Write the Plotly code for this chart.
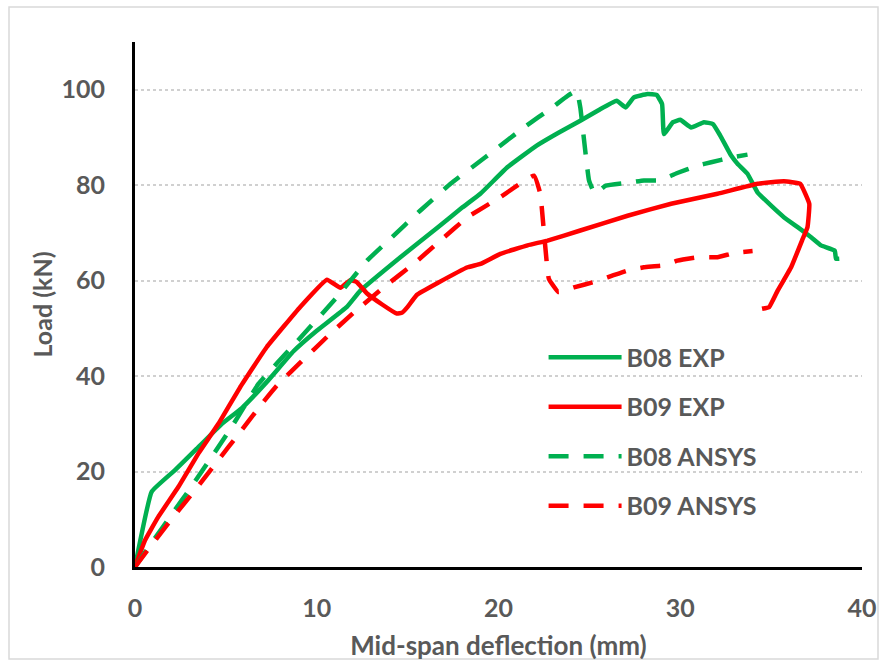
import plotly.graph_objects as go

# ---- data ----
b08_exp_x = [0, 0.92, 2.2, 3.4, 4.78, 5.88, 7.33, 8.72, 10.0, 11.66, 12.4, 14.6, 16.6, 18.0, 19.0, 20.5,
             22.1, 23.3, 24.5, 25.5, 26.5, 27.0, 27.45, 28.2, 28.7, 29.0, 29.1, 29.6, 30.0, 30.6, 31.3,
             31.8, 32.2, 32.8, 33.15, 33.7, 34.25, 35.0, 35.7, 36.46, 37.2, 37.74, 38.5, 38.57, 38.75]
b08_exp_y = [0, 15.8, 20.3, 24.8, 30.0, 33.3, 39.1, 45.2, 49.5, 54.5, 57.9, 64.9, 71.0, 75.3, 78.2, 83.8,
             88.3, 91.0, 93.5, 95.7, 97.7, 96.3, 98.4, 99.1, 98.9, 97.0, 90.7, 93.2, 93.7, 92.1, 93.2,
             92.8, 90.4, 86.2, 84.5, 82.4, 78.5, 75.7, 73.3, 71.2, 69.1, 67.4, 66.3, 64.6, 64.6]

b09_exp_x = [0, 0.55, 1.28, 2.39, 3.49, 4.59, 5.79, 7.25, 9.09, 10.56, 11.3, 11.85, 12.2, 12.77, 13.6,
             14.4, 14.7, 15.0, 15.5, 16.6, 18.3, 19.0, 20.1, 21.6, 22.7, 24.5, 27.1, 29.5, 32.05, 34.25,
             35.7, 36.6, 37.1, 37.0, 36.7, 36.1, 35.36, 34.9, 34.5]
b09_exp_y = [0, 5.6, 10.5, 16.8, 23.8, 30.0, 37.7, 46.1, 54.5, 60.2, 58.5, 60.1, 59.7, 57.3, 55.0,
             53.1, 53.3, 54.5, 57.0, 59.4, 62.8, 63.5, 65.6, 67.4, 68.4, 70.5, 73.6, 76.1, 78.2, 80.3,
             80.8, 80.3, 76.1, 71.2, 68.4, 62.8, 57.9, 54.5, 54.1]

b08_ansys_x = [0, 0.83, 2.0, 3.1, 4.22, 5.33, 6.8, 8.9, 11.1, 12.77, 14.05, 15.7, 17.36, 18.8, 19.74,
               21.4, 22.96, 23.8, 24.3, 24.5, 24.98, 25.3, 25.9, 27.1, 28.0, 28.9, 29.8, 30.95, 31.7,
               32.8, 33.7]
b08_ansys_y = [0, 4.6, 10.9, 16.8, 23.1, 29.4, 38.4, 47.2, 56.5, 64.2, 68.8, 74.7, 80.3, 84.5, 87.2,
               92.1, 96.3, 98.7, 99.8, 96.3, 81.0, 78.2, 79.9, 80.5, 81.0, 81.0, 82.5, 84.1, 84.8,
               85.8, 86.4]

b09_ansys_x = [0, 0.83, 2.11, 3.3, 4.5, 5.79, 6.98, 7.8, 9.09, 10.56, 12.0, 13.68, 15.33, 16.8, 18.3,
               20.1, 21.95, 22.3, 22.77, 23.3, 24.15, 25.25, 26.0, 27.1, 28.0, 29.1, 29.84, 30.95,
               32.05, 32.96, 33.98]
b09_ansys_y = [0, 4.2, 10.5, 16.1, 22.0, 28.3, 34.2, 38.0, 42.8, 48.2, 53.2, 58.6, 63.5, 68.4, 73.3,
               77.5, 82.0, 78.2, 60.4, 57.6, 58.6, 59.7, 60.7, 62.1, 62.8, 63.2, 64.2, 64.9,
               64.9, 65.8, 66.2]

x_ticks = [0, 10, 20, 30, 40]
y_ticks = [0, 20, 40, 60, 80, 100]

GREEN = "#00B050"
RED = "#FF0000"
TXT = "#595959"
FONT = "Lato"

series = [
    ("B08 EXP", b08_exp_x, b08_exp_y, GREEN, "solid"),
    ("B09 EXP", b09_exp_x, b09_exp_y, RED, "solid"),
    ("B08 ANSYS", b08_ansys_x, b08_ansys_y, GREEN, "20px,15px"),
    ("B09 ANSYS", b09_ansys_x, b09_ansys_y, RED, "20px,15px"),
]

fig = go.Figure()
for name, xs, ys, col, dash in series:
    fig.add_trace(go.Scatter(
        x=xs, y=ys, mode="lines", name=name, legendgroup=name,
        line=dict(color=col, width=4.5, dash=dash, shape="spline", smoothing=0.3),
    ))

fig.update_layout(
    width=887, height=666,
    margin=dict(l=135, r=25, t=42, b=99, autoexpand=False),
    paper_bgcolor="white", plot_bgcolor="white",
    font=dict(family=FONT, size=25, color=TXT),
    showlegend=True,
    legend=dict(
        x=0.562, y=0.443, xanchor="left", yanchor="top",
        bgcolor="rgba(0,0,0,0)", borderwidth=0,
        font=dict(family=FONT, size=25, color=TXT, weight="bold"),
        tracegroupgap=14, itemwidth=73,
    ),
    shapes=[dict(type="rect", xref="paper", yref="paper",
                 x0=-0.1733, x1=1.022, y0=-0.175, y1=1.0667,
                 line=dict(color="#D9D9D9", width=1.5), layer="below")],
)

fig.update_xaxes(
    range=[0, 40], tickvals=x_ticks, ticktext=[str(v) for v in x_ticks],
    showgrid=False, zeroline=False,
    showline=True, linecolor="black", linewidth=3,
    ticks="", ticklabelstandoff=17,
    tickfont=dict(family=FONT, size=25, color=TXT, weight="bold"),
    title=dict(text="<b>Mid-span deflection (mm)</b>", standoff=16,
               font=dict(family=FONT, size=26, color=TXT)),
)
fig.update_yaxes(
    range=[0, 110], tickvals=y_ticks, ticktext=[str(v) for v in y_ticks],
    showgrid=True, gridcolor="#D0D0D0", griddash="dot", gridwidth=1.5,
    zeroline=False,
    showline=True, linecolor="black", linewidth=3,
    ticks="", ticklabelstandoff=22,
    tickfont=dict(family=FONT, size=25, color=TXT, weight="bold"),
    title=dict(text="<b>Load (kN)</b>", standoff=2,
               font=dict(family=FONT, size=25, color=TXT)),
)

fig.write_html("out.html")
